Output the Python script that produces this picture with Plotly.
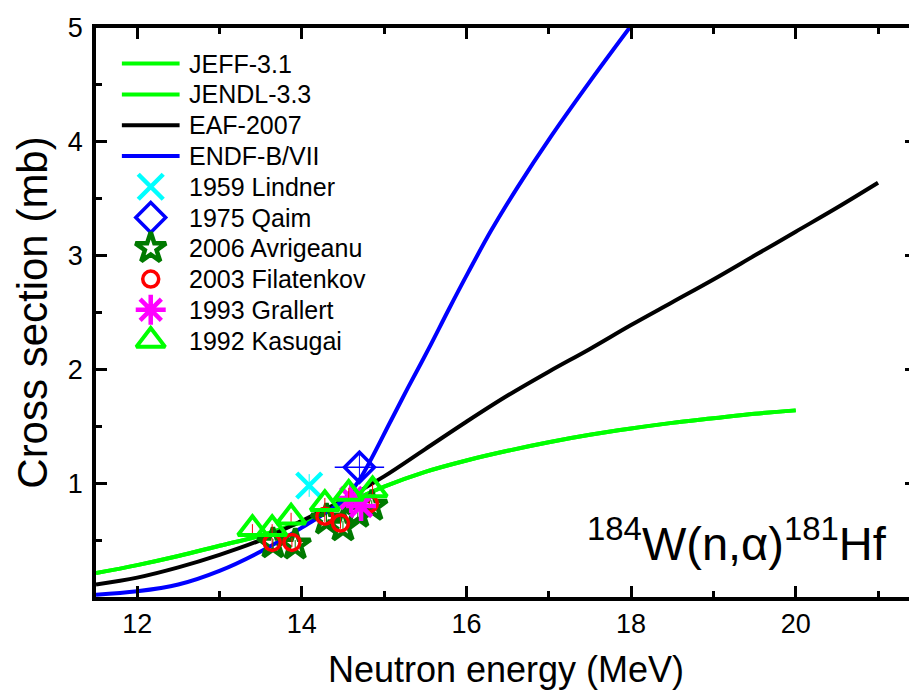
import plotly.graph_objects as go

# ---------------- data ----------------
energy_jeff = [11.5, 12.0, 12.5, 13.0, 13.5, 14.0, 14.5, 15.0, 15.5, 16.0, 16.5, 17.0, 17.5, 18.0, 18.5, 19.0, 19.5, 20.0]
sigma_jeff = [0.21, 0.28, 0.36, 0.45, 0.54, 0.66, 0.81, 0.97, 1.10, 1.20, 1.285, 1.36, 1.425, 1.48, 1.53, 1.57, 1.61, 1.64]

energy_jendl = [11.5, 12.0, 12.5, 13.0, 13.5, 14.0, 14.5, 15.0, 15.5, 16.0, 16.5, 17.0, 17.5, 18.0, 18.5, 19.0, 19.5, 20.0]
sigma_jendl = [0.21, 0.28, 0.36, 0.45, 0.54, 0.66, 0.81, 0.97, 1.10, 1.20, 1.285, 1.36, 1.425, 1.48, 1.53, 1.57, 1.61, 1.64]

energy_eaf = [11.5, 12.0, 12.5, 13.0, 13.5, 14.0, 14.5, 15.0, 15.5, 16.0, 16.5, 17.0, 17.5, 18.0, 18.5, 19.0, 19.5, 20.0, 20.5, 21.0]
sigma_eaf = [0.11, 0.17, 0.26, 0.37, 0.50, 0.67, 0.85, 1.06, 1.30, 1.54, 1.77, 1.98, 2.18, 2.39, 2.59, 2.79, 3.00, 3.21, 3.42, 3.64]

energy_endf = [11.5, 12.0, 12.5, 13.0, 13.5, 14.0, 14.5, 14.7, 15.09, 15.29, 15.54, 15.78, 16.02, 16.30, 16.62, 17.03, 17.51, 18.0]
sigma_endf = [0.02, 0.05, 0.11, 0.23, 0.40, 0.61, 0.85, 1.03, 1.56, 1.84, 2.18, 2.52, 2.85, 3.22, 3.60, 4.05, 4.54, 5.02]

lindner_e = [14.09]
lindner_s = [0.98]
lindner_err = [0.10]

qaim_e = [14.7]
qaim_s = [1.14]
qaim_err = [0.13]
qaim_eerr = [0.3]

avrigeanu_e = [13.65, 13.92, 14.30, 14.50, 14.68, 14.85]
avrigeanu_s = [0.47, 0.46, 0.68, 0.62, 0.74, 0.80]
avrigeanu_err = [0.04, 0.04, 0.05, 0.05, 0.05, 0.05]

filatenkov_e = [13.64, 13.88, 14.28, 14.47, 14.82]
filatenkov_s = [0.48, 0.48, 0.71, 0.65, 0.82]
filatenkov_err = [0.04, 0.04, 0.05, 0.05, 0.05]

grallert_e = [14.60, 14.72]
grallert_s = [0.87, 0.80]
grallert_err = [0.06, 0.06]

kasugai_e = [13.40, 13.64, 13.87, 14.28, 14.57, 14.86]
kasugai_s = [0.60, 0.60, 0.70, 0.82, 0.91, 0.94]
kasugai_err = [0.04, 0.04, 0.04, 0.05, 0.05, 0.05]

x_ticks = [12, 14, 16, 18, 20]
y_ticks = [1, 2, 3, 4, 5]
x_minor = [13, 15, 17, 19, 21]
y_minor = [0.5, 1.5, 2.5, 3.5, 4.5]

legend_labels = ["JEFF-3.1", "JENDL-3.3", "EAF-2007", "ENDF-B/VII", "1959 Lindner",
                 "1975 Qaim", "2006 Avrigeanu", "2003 Filatenkov", "1993 Grallert", "1992 Kasugai"]

FONT = "Liberation Sans, Arial, sans-serif"

# ---------------- styles ----------------
GREEN = "#00ff00"
line_styles = [dict(color=GREEN), dict(color=GREEN), dict(color="black"), dict(color="#0000ff")]
marker_styles = [
    dict(symbol="x-thin-open", size=25, color="#00ffff", line=dict(color="#00ffff", width=4.5)),
    dict(symbol="diamond-open", size=23, color="#0000ff", line=dict(color="#0000ff", width=3.5)),
    dict(symbol="star-open", size=23, color="#007a00", line=dict(color="#007a00", width=4.5)),
    dict(symbol="circle-open", size=16, color="#ff0000", line=dict(color="#ff0000", width=3.5)),
    dict(symbol="asterisk-open", size=25, color="#ff00ff", line=dict(color="#ff00ff", width=4.5)),
    dict(symbol="triangle-up-open", size=25, color=GREEN, line=dict(color=GREEN, width=4)),
]

# page geometry (page body has an 8px margin)
OFF = 8
W, H = 917, 700
ML, MR, MT, MB = 96 - OFF, 5, 22 - OFF, H - (597 - OFF)
X0 = 11.5
PLOT_W = W - ML - MR
PX_PER_MEV = 82.72
X1 = X0 + PLOT_W / PX_PER_MEV

fig = go.Figure()

curves = [(energy_jeff, sigma_jeff), (energy_jendl, sigma_jendl), (energy_eaf, sigma_eaf), (energy_endf, sigma_endf)]
for (ex, sy), st, nm in zip(curves, line_styles, legend_labels[:4]):
    fig.add_trace(go.Scatter(x=ex, y=sy, mode="lines", name=nm, showlegend=False,
                             line=dict(color=st["color"], width=4, shape="spline", smoothing=1.0)))

points = [
    (lindner_e, lindner_s, lindner_err, None, "#00ffff"),
    (qaim_e, qaim_s, qaim_err, qaim_eerr, "#0000ff"),
    (avrigeanu_e, avrigeanu_s, avrigeanu_err, None, "#008000"),
    (filatenkov_e, filatenkov_s, filatenkov_err, None, "#ff0000"),
    (grallert_e, grallert_s, grallert_err, None, "#ff00ff"),
    (kasugai_e, kasugai_s, kasugai_err, None, "#ff0000"),
]
for (ex, sy, err, eerr, ecol), mst, nm in zip(points, marker_styles, legend_labels[4:]):
    kw = {}
    if eerr is not None:
        kw["error_x"] = dict(type="data", array=eerr, color=ecol, thickness=1.5, width=0)
    fig.add_trace(go.Scatter(x=ex, y=sy, mode="markers", name=nm, showlegend=False,
                             error_y=dict(type="data", array=err, color=ecol, thickness=1, width=0),
                             marker=mst, **kw))

# ---------------- manual legend (positions in page pixels) ----------------
def paper_x(px):
    return (px - 96) / (PLOT_W)

def paper_y(py):
    return (597 - py) / 575.0

row0, row_gap = 58, 31.1
for i, lab in enumerate(legend_labels):
    ry = row0 + row_gap * i
    fig.add_annotation(x=paper_x(187), y=paper_y(ry), xref="paper", yref="paper",
                       text=lab, showarrow=False, xanchor="left", yanchor="middle",
                       font=dict(family=FONT, size=25, color="black"))
    if i < 4:
        fig.add_shape(type="line", xref="paper", yref="paper",
                      x0=paper_x(122), x1=paper_x(180), y0=paper_y(ry), y1=paper_y(ry),
                      line=dict(color=line_styles[i]["color"], width=4))
    else:
        fig.add_trace(go.Scatter(x=[X0 + (151 - 96) / PX_PER_MEV], y=[(597 - ry) / 115.0],
                                 mode="markers", showlegend=False, hoverinfo="skip",
                                 marker=marker_styles[i - 4]))

fig.add_annotation(x=19.29, y=0.5, xref="x", yref="y",
                   text="<sup>184</sup>W(n,\u03b1)<sup>181</sup>Hf",
                   showarrow=False, font=dict(family=FONT, size=47, color="black"),
                   xanchor="center", yanchor="middle")

fig.update_layout(
    width=W, height=H,
    margin=dict(l=ML, r=MR, t=MT, b=MB),
    plot_bgcolor="white", paper_bgcolor="white",
    font=dict(family=FONT, color="black"),
    showlegend=False,
    xaxis=dict(range=[X0, X1], tickvals=x_ticks, ticktext=[str(v) for v in x_ticks],
               ticks="inside", ticklen=11, tickwidth=3, tickcolor="black",
               showline=True, linewidth=3.5, linecolor="black", mirror="ticks",
               showgrid=False, zeroline=False, ticklabeloverflow="allow",
               tickfont=dict(family=FONT, size=27, color="black"),
               minor=dict(tickvals=x_minor, ticks="inside", ticklen=6,
                          tickwidth=3, tickcolor="black", showgrid=False),
               title=dict(text="Neutron energy (MeV)", font=dict(family=FONT, size=36, color="black"),
                          standoff=20)),
    yaxis=dict(range=[0, 5], tickvals=y_ticks, ticktext=[str(v) for v in y_ticks],
               ticks="inside", ticklen=11, tickwidth=3, tickcolor="black",
               showline=True, linewidth=3.5, linecolor="black", mirror="ticks",
               showgrid=False, zeroline=False, ticklabelstandoff=4, ticklabeloverflow="allow",
               tickfont=dict(family=FONT, size=27, color="black"),
               minor=dict(tickvals=y_minor, ticks="inside", ticklen=6,
                          tickwidth=3, tickcolor="black", showgrid=False),
               title=dict(text="Cross section (mb)", font=dict(family=FONT, size=42, color="black"),
                          standoff=8)),
)

fig.write_html("out.html")
